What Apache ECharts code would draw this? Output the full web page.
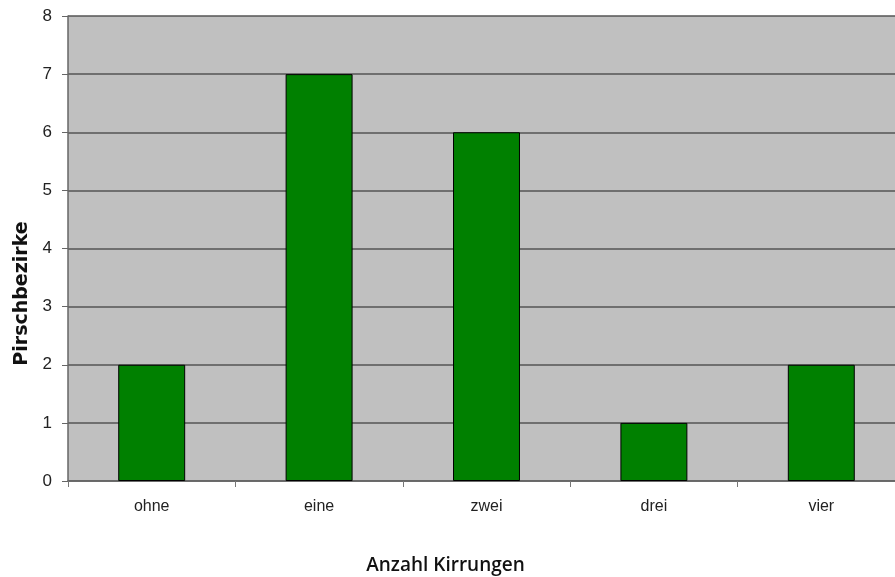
<!DOCTYPE html>
<html><head><meta charset="utf-8">
<script src="https://cdn.jsdelivr.net/npm/echarts@6/dist/echarts.min.js"></script>
<style>html,body{margin:0;padding:0;background:#fff;}#c{width:895px;height:577px;}</style>
</head><body><div id="c"></div>
<script>
var categories = ['ohne', 'eine', 'zwei', 'drei', 'vier'];
var values = [2, 7, 6, 1, 2];
var yTicks = [0, 1, 2, 3, 4, 5, 6, 7, 8];

var chart = echarts.init(document.getElementById('c'), null, {renderer: 'canvas'});
chart.setOption({
  animation: false,
  backgroundColor: '#ffffff',
  grid: {left: 68, top: 16, width: 837, height: 465, containLabel: false, outerBoundsMode: 'none',
         show: true, backgroundColor: '#c0c0c0', borderWidth: 0},
  xAxis: {
    type: 'category', data: categories,
    name: 'Anzahl Kirrungen', nameLocation: 'middle', nameGap: 75,
    nameTextStyle: {fontFamily: 'Open Sans', fontSize: 19, fontWeight: 600, color: '#111', padding: [0, 82, 0, 0]},
    axisLine: {show: true, lineStyle: {color: '#666', width: 1.5}},
    axisTick: {show: true, alignWithLabel: false, length: 6, lineStyle: {color: '#777'}},
    axisLabel: {fontFamily: 'Liberation Sans, Arial', fontSize: 16, color: '#222', margin: 18},
    splitLine: {show: false}
  },
  yAxis: {
    type: 'value', min: yTicks[0], max: yTicks[yTicks.length - 1], interval: 1,
    name: 'Pirschbezirke', nameLocation: 'middle', nameGap: 36,
    nameTextStyle: {fontFamily: 'DejaVu Sans', fontSize: 19, fontWeight: 'bold', color: '#111', padding: [0, 0, 0, -90]},
    axisLine: {show: true, lineStyle: {color: '#666', width: 1.5}},
    axisTick: {show: true, inside: false, length: 6, lineStyle: {color: '#666'}},
    axisLabel: {fontFamily: 'Liberation Sans, Arial', fontSize: 17, color: '#222', margin: 16},
    splitLine: {show: true, lineStyle: {color: '#555', width: 1.5}}
  },
  series: [{
    type: 'bar', data: values, barCategoryGap: '60%',
    itemStyle: {color: '#008000', borderColor: '#000', borderWidth: 1}
  }]
});
</script></body></html>
